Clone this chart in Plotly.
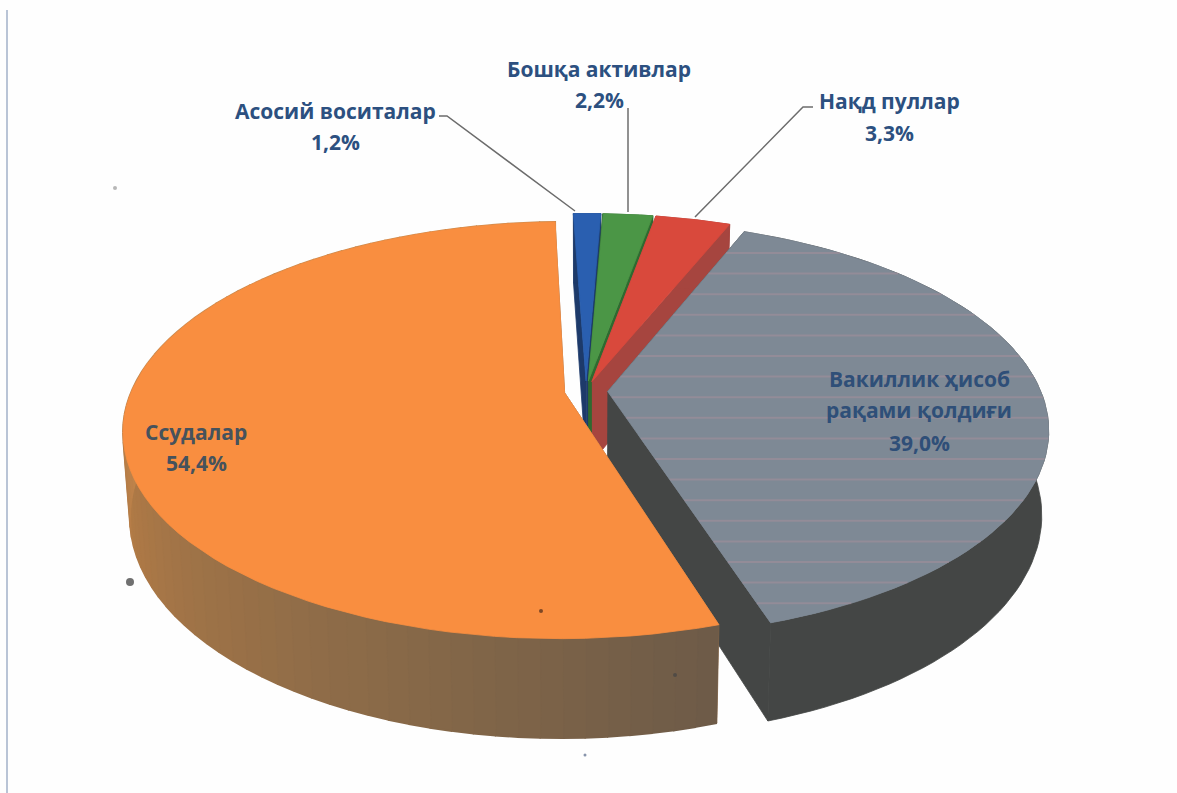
import numpy as np
import plotly.graph_objects as go

# data (clockwise from the top)
names = ["Асосий воситалар", "Бошқа активлар", "Нақд пуллар",
         "Вакиллик ҳисоб<br>рақами қолдиғи", "Ссудалар"]
values = [1.2, 2.2, 3.3, 39.0, 54.4]

top_colors = ["#2a5fb0", "#4b9646", "#d9493c", "#7e8995", "#f98e40"]
face_colors = ["#1d3a6a", "#2f6a30", "#a6453f", "#444645", "#8a6848"]

# pie geometry, in page pixels
cx, cy = 586, 391
A, B = 433, 201
k = 0.18
explode = 0.05
depth = 82
start_angle = -2.0

FONT = "'Open Sans', 'Noto Sans', sans-serif"
TXT = "#2c5080"


def project(X, Y, z=0.0):
    # circle lying flat, seen in perspective; z=1 is the underside
    s = 1 / (1 + k * Y)
    x = cx + A * (1 - 0.015 * z) * X * s
    y = cy + depth * z - B * (1 + 0.07 * z) * Y * s
    return x, y


def poly(fig, xs, ys, color, width=0.8):
    fig.add_trace(go.Scatter(x=xs, y=ys, mode="lines", fill="toself", fillcolor=color,
                             line=dict(color=color, width=width), hoverinfo="skip",
                             showlegend=False))


def wall_color(theta):
    # orange rim gets lighter toward the left
    stops = [160, 200, 250, 280]
    r = np.interp(theta, stops, [108, 138, 176, 202])
    g = np.interp(theta, stops, [90, 106, 122, 138])
    b = np.interp(theta, stops, [72, 72, 70, 78])
    return f"rgb({r:.0f},{g:.0f},{b:.0f})"


total = sum(values)
spans = [v / total * 360 for v in values]
starts = start_angle + np.cumsum([0] + spans[:-1])

fig = go.Figure()

def draw_slice(i):
    a0, a1 = starts[i], starts[i] + spans[i]
    mid = np.radians((a0 + a1) / 2)
    ox, oy = explode * np.sin(mid), explode * np.cos(mid)
    th = np.radians(np.linspace(a0, a1, 80))
    X, Y = ox + np.sin(th), oy + np.cos(th)

    # cut faces
    for j in (0, -1):
        p = [project(ox, oy, 0), project(X[j], Y[j], 0), project(X[j], Y[j], 1), project(ox, oy, 1)]
        poly(fig, [q[0] for q in p], [q[1] for q in p], face_colors[i])

    # rim: one piece, except the orange one which shades in strips
    if i == 4:
        for m in range(len(th) - 1):
            deg = np.degrees(th[m]) % 360
            p = [project(X[m], Y[m], 0), project(X[m + 1], Y[m + 1], 0),
                 project(X[m + 1], Y[m + 1], 1), project(X[m], Y[m], 1)]
            poly(fig, [q[0] for q in p], [q[1] for q in p], wall_color(deg), width=2)
    else:
        ux, uy = project(X, Y, 0)
        lx, ly = project(X, Y, 1)
        poly(fig, list(ux) + list(lx[::-1]), list(uy) + list(ly[::-1]), face_colors[i])

    # top
    px, py = project(np.r_[ox, X], np.r_[oy, Y], 0)
    poly(fig, list(px) + [px[0]], list(py) + [py[0]], top_colors[i])
    return px, py


for i in [0, 1, 2]:
    draw_slice(i)
gx, gy = draw_slice(3)

# pink scan lines across the grey slice
sx, sy = [], []
closed_x, closed_y = np.r_[gx, gx[0]], np.r_[gy, gy[0]]
for yy in np.arange(253, 610, 20.6):
    hits = []
    for a in range(len(closed_x) - 1):
        y0, y1 = closed_y[a], closed_y[a + 1]
        if (y0 - yy) * (y1 - yy) < 0:
            hits.append(closed_x[a] + (yy - y0) / (y1 - y0) * (closed_x[a + 1] - closed_x[a]))
    if len(hits) >= 2:
        sx += [min(hits), max(hits), None]
        sy += [yy, yy, None]
fig.add_trace(go.Scatter(x=sx, y=sy, mode="lines", line=dict(color="rgba(196,150,160,0.3)", width=2),
                         hoverinfo="skip", showlegend=False))

draw_slice(4)

# leader lines
fig.add_trace(go.Scatter(x=[439, 447, 575, None, 628, 628, None, 813, 803, 695],
                         y=[116, 116, 211, None, 108, 212, None, 107, 107, 217],
                         mode="lines", line=dict(color="#6c6c6c", width=1.5),
                         hoverinfo="skip", showlegend=False))

# specks and the edge of the scanned page
fig.add_trace(go.Scatter(x=[115, 130, 541, 675, 585], y=[188, 582, 611, 675, 755], mode="markers",
                         marker=dict(size=[4, 8, 4, 4, 3], line=dict(width=0),
                                     color=["#999999", "#333333", "#4a2a18", "#444444", "#556688"]),
                         hoverinfo="skip", showlegend=False))
fig.add_shape(type="line", x0=7, x1=7, y0=10, y1=793, line=dict(color="#b9c4d6", width=2))

pct = [f"{v:.1f}%".replace(".", ",") for v in values]
label_pos = [(335, 111, 142), (599, 69, 100), (889, 101, 133), (919, 379, 443), (196, 432, 463)]
label_col = [TXT, TXT, TXT, "#2f4f78", "#46525c"]
for i, (lx, y1, y2) in enumerate(label_pos):
    parts = names[i].split("<br>")
    ys = [y1] if len(parts) == 1 else [y1, y1 + 31]
    for t, yy in zip(parts + [pct[i]], ys + [y2]):
        fig.add_annotation(x=lx, y=yy, text=f"<b>{t}</b>", showarrow=False,
                           font=dict(family=FONT, size=21, color=label_col[i]))

fig.update_layout(width=1177, height=793, margin=dict(l=0, r=0, t=0, b=0),
                  paper_bgcolor="#fefefe", plot_bgcolor="#fefefe", showlegend=False,
                  xaxis=dict(range=[0, 1177], visible=False, fixedrange=True),
                  yaxis=dict(range=[793, 0], visible=False, fixedrange=True))

fig.write_html("out.html", config={"displayModeBar": False},
               post_script="document.body.style.margin='0';")
